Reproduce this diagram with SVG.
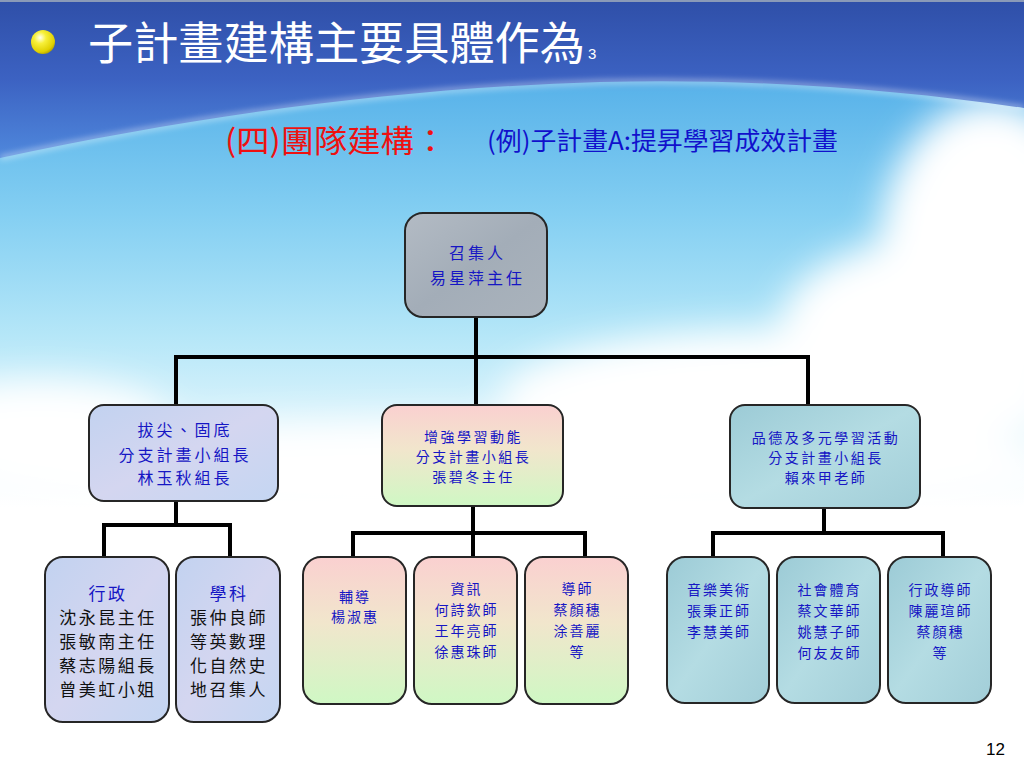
<svg xmlns="http://www.w3.org/2000/svg" width="1024" height="768" viewBox="0 0 1024 768">
<defs>
<style>
.t{font-family:"Noto Sans CJK TC","Noto Sans CJK SC",sans-serif;}
.bl{fill:#1616c4;}
.bk{fill:#111111;}
.node{stroke:#262626;stroke-width:2;}
.conn{stroke:#000;stroke-width:4;fill:none;stroke-linecap:square;}
</style>
<linearGradient id="sky" x1="0" y1="0" x2="0" y2="1">
<stop offset="0" stop-color="#3e6cc8"/>
<stop offset="0.12" stop-color="#5bb4ea"/>
<stop offset="0.28" stop-color="#84cff2"/>
<stop offset="0.44" stop-color="#b6e7f8"/>
<stop offset="0.58" stop-color="#e6f7fd"/>
<stop offset="0.66" stop-color="#ffffff"/>
<stop offset="1" stop-color="#ffffff"/>
</linearGradient>
<linearGradient id="band" x1="0" y1="0" x2="0" y2="1">
<stop offset="0" stop-color="#2f4fa8"/>
<stop offset="0.5" stop-color="#3c62c2"/>
<stop offset="1" stop-color="#4f88dc"/>
</linearGradient>
<radialGradient id="bullet" cx="0.38" cy="0.32" r="0.7">
<stop offset="0" stop-color="#fffff0"/>
<stop offset="0.35" stop-color="#f7f03a"/>
<stop offset="0.85" stop-color="#e0d000"/>
<stop offset="1" stop-color="#b8a800"/>
</radialGradient>
<linearGradient id="gGray" x1="0" y1="0" x2="1" y2="1">
<stop offset="0" stop-color="#b3bbc4"/>
<stop offset="0.5" stop-color="#a3adb8"/>
<stop offset="1" stop-color="#aab3bc"/>
</linearGradient>
<linearGradient id="gLav" x1="0" y1="0" x2="1" y2="1">
<stop offset="0" stop-color="#c2d2f0"/>
<stop offset="0.5" stop-color="#d4d6f0"/>
<stop offset="1" stop-color="#c4d6f2"/>
</linearGradient>
<linearGradient id="gPG" x1="0" y1="0" x2="0" y2="1">
<stop offset="0" stop-color="#fad0d0"/>
<stop offset="0.45" stop-color="#f1e6cc"/>
<stop offset="1" stop-color="#cff8c4"/>
</linearGradient>
<linearGradient id="gAqua" x1="0" y1="0" x2="1" y2="1">
<stop offset="0" stop-color="#9ccbd6"/>
<stop offset="0.5" stop-color="#b4dce3"/>
<stop offset="1" stop-color="#a2ced8"/>
</linearGradient>
<filter id="blur" x="-50%" y="-50%" width="200%" height="200%"><feGaussianBlur stdDeviation="18"/></filter>
<filter id="blur2" x="-20%" y="-50%" width="140%" height="200%"><feGaussianBlur stdDeviation="3"/></filter>
</defs>

<!-- background -->
<rect x="0" y="0" width="1024" height="768" fill="url(#sky)"/>
<g fill="#ffffff" filter="url(#blur)">
<ellipse cx="990" cy="250" rx="110" ry="150"/>
<ellipse cx="930" cy="330" rx="150" ry="90"/>
<ellipse cx="780" cy="400" rx="280" ry="70"/>
<ellipse cx="40" cy="420" rx="130" ry="40"/>
<ellipse cx="500" cy="470" rx="560" ry="50"/>
</g>
<path d="M0,0 H1024 V108 C900,90 760,78 600,82 C400,88 200,115 0,158 Z" fill="url(#band)"/>
<path d="M0,158 C200,115 400,88 600,82 C760,78 900,90 1024,108" fill="none" stroke="#ffffff" stroke-opacity="0.7" stroke-width="3" filter="url(#blur2)"/>
<rect x="0" y="0" width="1024" height="2" fill="#8a9ab8"/>

<!-- title -->
<circle cx="43" cy="42" r="12" fill="url(#bullet)"/>
<text class="t" x="88" y="60" font-size="45" fill="#ffffff" textLength="497" lengthAdjust="spacingAndGlyphs">子計畫建構主要具體作為</text>
<text x="588" y="59" font-family="Liberation Sans, sans-serif" font-size="15" fill="#ffffff">3</text>

<text class="t" x="225" y="152" font-size="31" fill="#ee1111" textLength="222" lengthAdjust="spacingAndGlyphs">(四)團隊建構：</text>
<text class="t" x="487" y="150" font-size="25" fill="#1111cc" textLength="351" lengthAdjust="spacingAndGlyphs">(例)子計畫A:提昇學習成效計畫</text>

<!-- connectors -->
<g id="connectors" class="conn">
<path d="M476,317 V357"/>
<path d="M176,405 V357 H808 V405"/>
<path d="M476,357 V405"/>
<path d="M176,501 V525"/>
<path d="M104,557 V525 H230 V557"/>
<path d="M473,506 V557"/>
<path d="M353,557 V533 H585 V557"/>
<path d="M824,508 V533"/>
<path d="M713,557 V533 H943 V557"/>
</g>

<!-- nodes -->
<g id="node-convener">
<rect class="node" x="405" y="213" width="142" height="104" rx="18" fill="url(#gGray)"/>
<text class="t bl" x="477.5" y="259" font-size="16" letter-spacing="3" text-anchor="middle">召集人</text>
<text class="t bl" x="477.5" y="284" font-size="16" letter-spacing="3" text-anchor="middle">易星萍主任</text>
</g>

<g id="node-top-bottom">
<rect class="node" x="89" y="405" width="189" height="96" rx="15" fill="url(#gLav)"/>
<text class="t bl" x="185" y="436" font-size="16" letter-spacing="3" text-anchor="middle">拔尖、固底</text>
<text class="t bl" x="185" y="461" font-size="16" letter-spacing="3" text-anchor="middle">分支計畫小組長</text>
<text class="t bl" x="185" y="484" font-size="16" letter-spacing="3" text-anchor="middle">林玉秋組長</text>
</g>

<g id="node-motivation">
<rect class="node" x="382" y="405" width="181" height="101" rx="15" fill="url(#gPG)"/>
<text class="t bl" x="473.5" y="442" font-size="14" letter-spacing="2.5" text-anchor="middle">增強學習動能</text>
<text class="t bl" x="473.5" y="462" font-size="14" letter-spacing="2.5" text-anchor="middle">分支計畫小組長</text>
<text class="t bl" x="473.5" y="482" font-size="14" letter-spacing="2.5" text-anchor="middle">張碧冬主任</text>
</g>

<g id="node-character">
<rect class="node" x="730" y="405" width="190" height="103" rx="15" fill="url(#gAqua)"/>
<text class="t bl" x="826" y="443" font-size="14" letter-spacing="2.5" text-anchor="middle">品德及多元學習活動</text>
<text class="t bl" x="826" y="463" font-size="14" letter-spacing="2.5" text-anchor="middle">分支計畫小組長</text>
<text class="t bl" x="826" y="483" font-size="14" letter-spacing="2.5" text-anchor="middle">賴來甲老師</text>
</g>

<g id="node-admin">
<rect class="node" x="45" y="557" width="124" height="165" rx="18" fill="url(#gLav)"/>
<text class="t bl" x="108" y="600" font-size="17" letter-spacing="2.5" text-anchor="middle">行政</text>
<text class="t bk" x="108" y="624" font-size="17" letter-spacing="2.5" text-anchor="middle">沈永昆主任</text>
<text class="t bk" x="108" y="648" font-size="17" letter-spacing="2.5" text-anchor="middle">張敏南主任</text>
<text class="t bk" x="108" y="672" font-size="17" letter-spacing="2.5" text-anchor="middle">蔡志陽組長</text>
<text class="t bk" x="108" y="696" font-size="17" letter-spacing="2.5" text-anchor="middle">曾美虹小姐</text>
</g>

<g id="node-subject">
<rect class="node" x="176" y="557" width="104" height="165" rx="18" fill="url(#gLav)"/>
<text class="t bl" x="229" y="600" font-size="17" letter-spacing="2.5" text-anchor="middle">學科</text>
<text class="t bk" x="229" y="624" font-size="17" letter-spacing="2.5" text-anchor="middle">張仲良師</text>
<text class="t bk" x="229" y="648" font-size="17" letter-spacing="2.5" text-anchor="middle">等英數理</text>
<text class="t bk" x="229" y="672" font-size="17" letter-spacing="2.5" text-anchor="middle">化自然史</text>
<text class="t bk" x="229" y="696" font-size="17" letter-spacing="2.5" text-anchor="middle">地召集人</text>
</g>

<g id="node-counseling">
<rect class="node" x="303" y="557" width="103" height="147" rx="18" fill="url(#gPG)"/>
<text class="t bl" x="355" y="602" font-size="14" letter-spacing="2" text-anchor="middle">輔導</text>
<text class="t bl" x="355" y="622" font-size="14" letter-spacing="2" text-anchor="middle">楊淑惠</text>
</g>

<g id="node-it">
<rect class="node" x="414" y="557" width="103" height="147" rx="18" fill="url(#gPG)"/>
<text class="t bl" x="466.5" y="594" font-size="14" letter-spacing="2" text-anchor="middle">資訊</text>
<text class="t bl" x="466.5" y="615" font-size="14" letter-spacing="2" text-anchor="middle">何詩欽師</text>
<text class="t bl" x="466.5" y="636" font-size="14" letter-spacing="2" text-anchor="middle">王年亮師</text>
<text class="t bl" x="466.5" y="657" font-size="14" letter-spacing="2" text-anchor="middle">徐惠珠師</text>
</g>

<g id="node-mentor">
<rect class="node" x="525" y="557" width="103" height="147" rx="18" fill="url(#gPG)"/>
<text class="t bl" x="577.5" y="594" font-size="14" letter-spacing="2" text-anchor="middle">導師</text>
<text class="t bl" x="577.5" y="615" font-size="14" letter-spacing="2" text-anchor="middle">蔡顏穗</text>
<text class="t bl" x="577.5" y="636" font-size="14" letter-spacing="2" text-anchor="middle">涂善麗</text>
<text class="t bl" x="577.5" y="657" font-size="14" letter-spacing="2" text-anchor="middle">等</text>
</g>

<g id="node-arts">
<rect class="node" x="667" y="557" width="102" height="146" rx="18" fill="url(#gAqua)"/>
<text class="t bl" x="719" y="595" font-size="14" letter-spacing="2" text-anchor="middle">音樂美術</text>
<text class="t bl" x="719" y="616" font-size="14" letter-spacing="2" text-anchor="middle">張秉正師</text>
<text class="t bl" x="719" y="637" font-size="14" letter-spacing="2" text-anchor="middle">李慧美師</text>
</g>

<g id="node-social">
<rect class="node" x="777" y="557" width="103" height="146" rx="18" fill="url(#gAqua)"/>
<text class="t bl" x="829.5" y="595" font-size="14" letter-spacing="2" text-anchor="middle">社會體育</text>
<text class="t bl" x="829.5" y="616" font-size="14" letter-spacing="2" text-anchor="middle">蔡文華師</text>
<text class="t bl" x="829.5" y="637" font-size="14" letter-spacing="2" text-anchor="middle">姚慧子師</text>
<text class="t bl" x="829.5" y="658" font-size="14" letter-spacing="2" text-anchor="middle">何友友師</text>
</g>

<g id="node-admin-mentor">
<rect class="node" x="888" y="557" width="103" height="146" rx="18" fill="url(#gAqua)"/>
<text class="t bl" x="940.5" y="595" font-size="14" letter-spacing="2" text-anchor="middle">行政導師</text>
<text class="t bl" x="940.5" y="616" font-size="14" letter-spacing="2" text-anchor="middle">陳麗瑄師</text>
<text class="t bl" x="940.5" y="637" font-size="14" letter-spacing="2" text-anchor="middle">蔡顏穗</text>
<text class="t bl" x="940.5" y="658" font-size="14" letter-spacing="2" text-anchor="middle">等</text>
</g>

<text x="1005" y="755" font-family="Liberation Sans, sans-serif" font-size="17" fill="#000" text-anchor="end">12</text>
</svg>
